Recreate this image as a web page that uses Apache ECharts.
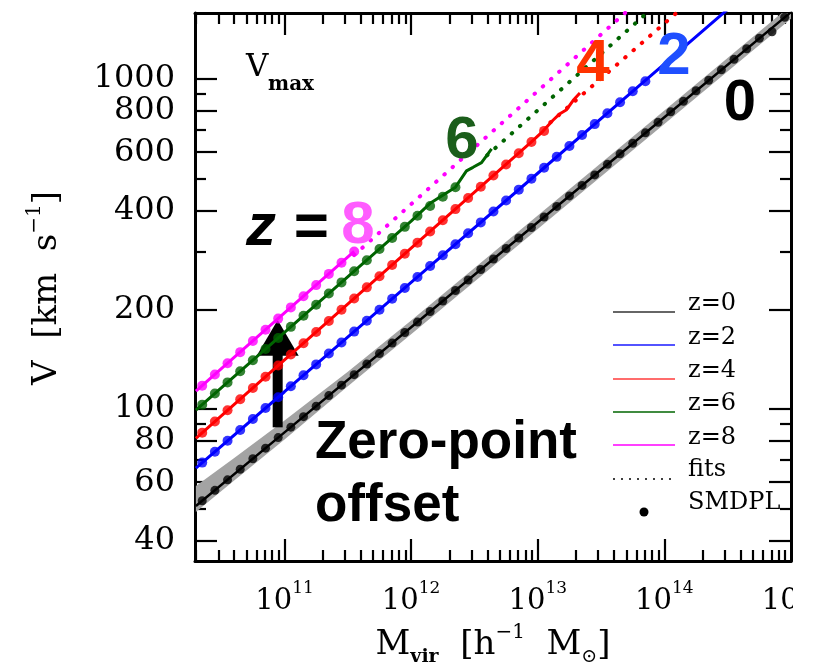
<!DOCTYPE html>
<html><head><meta charset="utf-8">
<script src="https://cdn.jsdelivr.net/npm/echarts@6/dist/echarts.min.js"></script>
<style>html,body{margin:0;padding:0;background:#fff}#c{width:813px;height:667px}</style>
</head><body><div id="c"></div>
<script>
// ---------- data (log10 of Mvir, V in km/s) ----------
const dotLogM = [10.35,10.45,10.55,10.65,10.75,10.85,10.95,11.05,11.15,11.25,11.35,11.45,11.55,11.65,11.75,11.85,11.95,12.05,12.15,12.25,12.35,12.45,12.55,12.65,12.75,12.85,12.95,13.05,13.15,13.25,13.35,13.45,13.55,13.65,13.75,13.85,13.95,14.05,14.15,14.25,14.35,14.45,14.55,14.65,14.75,14.85,14.95];
const z0Dots = [52.7,56.7,61.0,65.7,70.7,76.1,81.9,88.1,94.8,102.0,109.8,118.1,127.1,136.8,147.2,158.4,170.5,183.4,197.4,212.4,228.6,246.0,264.7,284.8,306.5,329.8,354.9,381.9,411.0,442.3,476.0,512.2,551.2,593.1,638.2,686.8,739.1,795.3,855.8,921.0,991.1,1066,1147,1235,1329,1390,1539];
const z2Dots = [68.8,74.2,80.1,86.4,93.3,100.7,108.6,117.2,126.5,136.5,147.3,159.0,171.6,185.2,199.8,215.7,232.7,251.2,271.1,292.5,315.7,340.7,367.7,396.8,428.2,462.1,498.7,538.2,580.8,626.8,676.5,730.0,787.9,850.3,917.6,985];
const z4Dots = [84.8,91.7,99.1,107.1,115.8,125.2,135.4,146.3,158.2,171.1,184.9,199.9,216.1,233.7,252.6,273.1,295.3,319.2,345.1,373.1,403.4,436.1,471.4,509.7,551.0,595.7,644.0,696.2];
const z6Dots = [103.1,111.4,120.4,130.1,140.6,151.9,164.2,177.4,191.7,207.1,223.8,241.9,261.4,282.4,305.2,329.8,356.4,385.1,412,440,470];
const z8Dots = [117.7,127.2,137.6,148.7,160.8,173.8,187.9,203.2,219.6,237.4,256.7,277.5,300.0];

const z0LineLogM = [10.30,11.0,12.0,13.0,14.0,15.0];
const z0LineV    = [50.8,84.95,176.8,368.1,766.2,1595];
const z2LineLogM = [10.30,11.0,12.0,13.0,13.85,14.55];
const z2LineV    = [66.2,112.8,241.8,518.1,990.3,1689];
const z4LineLogM = [10.30,11.0,12.0,12.95,13.04,13.12,13.175,13.228,13.28,13.333];
const z4LineV    = [81.5,140.8,307.4,645,694,750,785,807,862,907];
const z6LineLogM = [10.30,11.0,12.0,12.15,12.35,12.437,12.489,12.556,12.635];
const z6LineV    = [99.2,170.7,370.9,420,470,527,540,558,614];
const z8LineLogM = [10.30,11.0,11.55];
const z8LineV    = [113.2,195.5,300.3];

const z4FitLogM = [13.1,14.2];   const z4FitV = [739,1718];
const z6FitLogM = [12.6,13.95];  const z6FitV = [586.9,1699];
const z8FitLogM = [11.55,13.75]; const z8FitV = [292.6,1663];

const bandLogM = [10.3,10.6,11.0,11.5,12,13,14,15];
const bandHigh = [58.4,70.9,92.3,129.6,185.5,386.0,803.0,1672];
const bandLow  = [48.7,60.6,80.9,117.2,168.5,351.0,731.0,1522];

const arrowLogM = 10.946; const arrowFrom = 88; const arrowHeadBase = 145; const arrowTip = 186;

const xMajorExp = [11,12,13,14,15];
const xMinorMult = [2,3,4,5,6,7,8,9];
const yMajor = [40,60,80,100,200,400,600,800,1000];
const yMinor = [50,70,90,300,500,700,900];

// ---------- build ----------
const P = e => Math.pow(10, e);
const pts = (lm, v) => v.map((val, i) => [P(lm[i]), val]);
const XMIN = P(10.293), XMAX = 1e15, YMIN = P(1.5394), YMAX = P(3.2);
const xMajor = xMajorExp.map(P);
// the last label sits on the frame edge; keep it just inside the extent
const xLabelVals = xMajor.map(v => v >= XMAX ? XMAX * 0.9995 : v);
const xMinor = [];
for (let e = 10; e <= 14; e++) xMinorMult.forEach(m => { const v = m * P(e); if (v > XMIN && v < XMAX) xMinor.push(v); });

const SERIF = 'DejaVu Serif';
const SANS = 'Liberation Sans';

function xAx(pos, ticks, len, line, labels) {
  return {
    type: 'log', position: pos, min: XMIN, max: XMAX, gridIndex: 0,
    axisLine: { show: line, onZero: false, lineStyle: { color: '#000', width: 3 } },
    axisTick: { show: true, inside: true, length: len, customValues: ticks, lineStyle: { color: '#000', width: 2.2 } },
    axisLabel: labels ? {
      show: true, customValues: xLabelVals, margin: 19, color: '#000', showMaxLabel: true, showMinLabel: true, hideOverlap: false,
      formatter: v => '{b|10}{s|' + Math.round(Math.log10(v)) + '}',
      rich: { b: { fontFamily: SERIF, fontSize: 29, lineHeight: 42, color: '#000' },
              s: { fontFamily: SERIF, fontSize: 17, lineHeight: 17, verticalAlign: 'top', color: '#000' } }
    } : { show: false },
    splitLine: { show: false }, minorTick: { show: false }
  };
}
function yAx(pos, ticks, len, line, labels) {
  return {
    type: 'log', position: pos, min: YMIN, max: YMAX, gridIndex: 0,
    axisLine: { show: line, onZero: false, lineStyle: { color: '#000', width: 3 } },
    axisTick: { show: true, inside: true, length: len, customValues: ticks, lineStyle: { color: '#000', width: 2.2 } },
    axisLabel: labels ? { show: true, customValues: yMajor, margin: 20, color: '#000', fontFamily: SERIF, fontSize: 32, formatter: v => String(Math.round(v)) } : { show: false },
    splitLine: { show: false }, minorTick: { show: false }
  };
}

const chart = echarts.init(document.getElementById('c'), null, { renderer: 'canvas' });

const series = [];
// gray band
series.push({
  type: 'custom', z: 1, silent: true,
  data: [[P(bandLogM[0]), bandLow[0]]],
  renderItem: (params, api) => {
    const up = bandLogM.map((m, i) => api.coord([P(m), bandHigh[i]]));
    const lo = bandLogM.map((m, i) => api.coord([P(m), bandLow[i]])).reverse();
    return { type: 'polygon', shape: { points: up.concat(lo) }, style: { fill: '#a3a3a3' } };
  },
  clip: true
});
// arrow
series.push({
  type: 'custom', z: 2, silent: true,
  data: [[P(arrowLogM), arrowFrom, arrowHeadBase, arrowTip]],
  renderItem: (params, api) => {
    const x = api.value(0);
    const p0 = api.coord([x, api.value(1)]);
    const p1 = api.coord([x, api.value(2)]);
    const p2 = api.coord([x, api.value(3)]);
    return { type: 'group', children: [
      { type: 'rect', shape: { x: p0[0] - 5, y: p1[1] - 1, width: 10, height: p0[1] - p1[1] + 1 }, style: { fill: '#000' } },
      { type: 'polygon', shape: { points: [[p1[0] - 21, p1[1]], [p1[0] + 21, p1[1]], [p2[0], p2[1]]] }, style: { fill: '#000' } }
    ] };
  }
});

function addZ(name, color, lineLm, lineV, dots, lw, ds) {
  series.push({ type: 'line', name: name, z: 3, data: pts(lineLm, lineV), showSymbol: false, symbol: 'none', smooth: false,
    lineStyle: { color: color, width: lw }, silent: true });
  series.push({ type: 'scatter', name: name + ' SMDPL', z: 4, data: pts(dotLogM, dots), symbol: 'circle', symbolSize: ds,
    itemStyle: { color: color }, silent: true });
}
function addFit(color, lm, v) {
  series.push({ type: 'line', z: 3, data: pts(lm, v), showSymbol: false, symbol: 'none',
    lineStyle: { color: color, width: 4, type: [0.5, 10.5], cap: 'round' }, silent: true });
}
addZ('z=0', '#000000', z0LineLogM, z0LineV, z0Dots, 2.5, 9);
addZ('z=2', '#0000ff', z2LineLogM, z2LineV, z2Dots, 3, 10);
addZ('z=4', '#ff0000', z4LineLogM, z4LineV, z4Dots, 3, 10);
addZ('z=6', '#006400', z6LineLogM, z6LineV, z6Dots, 3, 10);
addZ('z=8', '#ff00ff', z8LineLogM, z8LineV, z8Dots, 3, 10);
addFit('#ff0000', z4FitLogM, z4FitV);
addFit('#006400', z6FitLogM, z6FitV);
addFit('#ff00ff', z8FitLogM, z8FitV);

function txt(x, y, text, font, color, align, extra) {
  return Object.assign({ type: 'text', x: x, y: y, z: 50, silent: true,
    style: Object.assign({ text: text, fill: color, align: align || 'left', textAlign: align || 'left', verticalAlign: 'middle', textVerticalAlign: 'middle' }, font) }, extra || {});
}
const big = { fontFamily: SANS, fontWeight: 'bold', fontSize: 60 };
const legY = [[312, 304, 'z=0', '#333333'], [345, 338, 'z=2', '#1a1aff'], [379, 371, 'z=4', '#ff3b3b'], [412, 404, 'z=6', '#006400'], [445, 438, 'z=8', '#ff00ff']];
const graphic = [];
legY.forEach(r => {
  graphic.push({ type: 'line', z: 50, silent: true, shape: { x1: 613, y1: r[0], x2: 675, y2: r[0] }, style: { stroke: r[3], lineWidth: 1.6 } });
  graphic.push(txt(688, r[1], r[2], { fontFamily: SERIF, fontSize: 24 }, '#000'));
});
graphic.push({ type: 'line', z: 50, silent: true, shape: { x1: 613, y1: 479, x2: 675, y2: 479 }, style: { stroke: '#000', lineWidth: 1.5, lineDash: [2, 6] } });
graphic.push(txt(688, 470, 'fits', { fontFamily: SERIF, fontSize: 24 }, '#000'));
graphic.push({ type: 'circle', z: 50, silent: true, shape: { cx: 644, cy: 512, r: 4.5 }, style: { fill: '#000' } });
graphic.push(txt(688, 503, 'SMDPL', { fontFamily: SERIF, fontSize: 24 }, '#000'));

graphic.push(txt(246, 68, 'V', { fontFamily: SERIF, fontSize: 31 }, '#000'));
graphic.push(txt(268, 85, 'max', { fontFamily: SERIF, fontSize: 20, fontWeight: 'bold' }, '#000'));
graphic.push(txt(246, 228, 'z =', { fontFamily: SANS, fontSize: 60, fontWeight: 'bold', fontStyle: 'italic' }, '#000'));
graphic.push(txt(358, 226, '8', big, '#ff5cff', 'center'));
graphic.push(txt(462, 141, '6', big, '#1b5e1b', 'center'));
graphic.push(txt(593, 64, '4', big, '#ff3300', 'center'));
graphic.push(txt(674, 57, '2', big, '#1f4fff', 'center'));
graphic.push(txt(740, 104, '0', Object.assign({}, big, { fontSize: 58 }), '#000', 'center'));
graphic.push(txt(315, 443, 'Zero-point', { fontFamily: SANS, fontSize: 53, fontWeight: 'bold' }, '#000'));
graphic.push(txt(315, 506, 'offset', { fontFamily: SANS, fontSize: 53, fontWeight: 'bold' }, '#000'));

// axis titles
graphic.push({ type: 'text', z: 50, silent: true, x: 47, y: 288, rotation: Math.PI / 2,
  style: { text: '{a|V  [km  s}{s|\u22121}{a|]}', align: 'center', textAlign: 'center', verticalAlign: 'middle', textVerticalAlign: 'middle', fill: '#000',
    rich: { a: { fontFamily: SERIF, fontSize: 34, lineHeight: 44, fill: '#000', color: '#000' },
            s: { fontFamily: SERIF, fontSize: 20, lineHeight: 20, verticalAlign: 'top', fill: '#000', color: '#000' } } } });
graphic.push({ type: 'text', z: 50, silent: true, x: 493, y: 645,
  style: { text: '{a|M}{b|vir}{a|  [h}{s|\u22121}{a|  M}{c|\u2299}{a|]}', align: 'center', textAlign: 'center', verticalAlign: 'middle', textVerticalAlign: 'middle', fill: '#000',
    rich: { a: { fontFamily: SERIF, fontSize: 34, lineHeight: 44, fill: '#000', color: '#000' },
            b: { fontFamily: SERIF, fontSize: 19, fontWeight: 'bold', lineHeight: 19, verticalAlign: 'bottom', fill: '#000', color: '#000' },
            c: { fontFamily: SERIF, fontSize: 19, lineHeight: 19, verticalAlign: 'bottom', fill: '#000', color: '#000' },
            s: { fontFamily: SERIF, fontSize: 20, lineHeight: 20, verticalAlign: 'top', fill: '#000', color: '#000' } } } });
// crop of the original figure at its right edge
graphic.push({ type: 'rect', z: 100, silent: true, shape: { x: 793, y: 564, width: 25, height: 110 }, style: { fill: '#fff' } });

chart.setOption({
  animation: false,
  backgroundColor: '#fff',
  grid: { left: 195, right: 22, top: 13, bottom: 106, containLabel: false, outerBoundsMode: 'none' },
  xAxis: [ xAx('bottom', xMajor, 22, true, true), xAx('bottom', xMinor, 11, false, false),
           xAx('top', xMajor, 22, true, false), xAx('top', xMinor, 11, false, false) ],
  yAxis: [ yAx('left', yMajor, 22, true, true), yAx('left', yMinor, 11, false, false),
           yAx('right', yMajor, 22, true, false), yAx('right', yMinor, 11, false, false) ],
  series: series,
  graphic: graphic
});
</script></body></html>
